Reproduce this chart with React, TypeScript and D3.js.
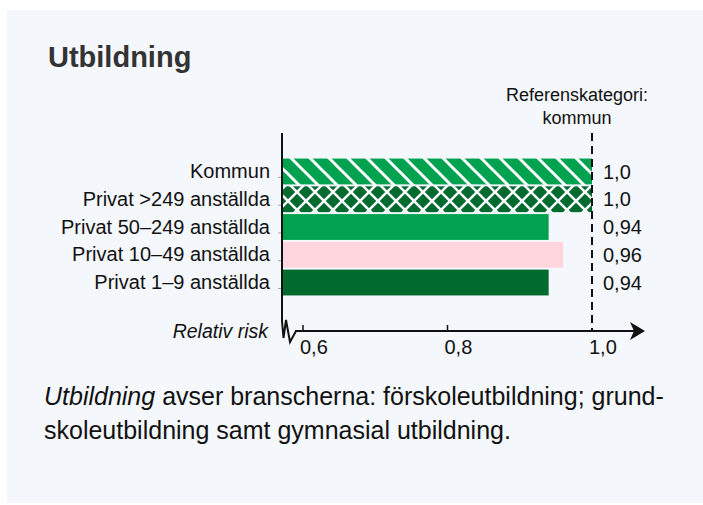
import React from 'react';
import * as d3 from 'd3';

const categories = [
  'Kommun',
  'Privat >249 anställda',
  'Privat 50–249 anställda',
  'Privat 10–49 anställda',
  'Privat 1–9 anställda',
];
const values = [1.0, 1.0, 0.94, 0.96, 0.94];
const valueLabels = ['1,0', '1,0', '0,94', '0,96', '0,94'];
const fills = ['url(#hatch)', 'url(#cross)', '#00a14f', '#ffd5de', '#016a2f'];
const tickValues = [0.6, 0.8, 1.0];
const tickLabels = ['0,6', '0,8', '1,0'];

const FONT = '"Liberation Sans", Arial, Helvetica, sans-serif';

export default function App() {
  const width = 703;
  const height = 505;
  const axisX = 282;
  const axisY = 331;

  // 0.6 -> 303, 1.0 -> 592
  const x = d3.scaleLinear().domain([0.6, 1.0]).range([303, 592]);
  const y = d3.scaleBand<string>()
    .domain(categories)
    .range([158, 296])
    .paddingInner(0.07)
    .paddingOuter(0.02);

  const refX = x(1.0);

  return (
    <svg
      width={width}
      height={height}
      style={{ position: 'absolute', left: 0, top: 0 }}
      fontFamily={FONT}
    >
      <defs>
        <pattern id="hatch" patternUnits="userSpaceOnUse" width={19} height={19}>
          <rect width={19} height={19} fill="#00a14f" />
          <path d="M-5,-5 L24,24 M-5,14 L5,24 M14,-5 L24,5" stroke="#fff" strokeWidth={3} />
        </pattern>
        <pattern id="cross" patternUnits="userSpaceOnUse" width={18} height={18} y={3}>
          <rect width={18} height={18} fill="#016a2f" />
          <path d="M-4,-4 L22,22 M-4,14 L4,22 M14,-4 L22,4" stroke="#fff" strokeWidth={2.5} />
          <path d="M22,-4 L-4,22 M4,-4 L-4,4 M22,14 L14,22" stroke="#fff" strokeWidth={2.5} />
        </pattern>
      </defs>

      <rect x={7} y={10} width={696} height={493} fill="#f4f7fb" />

      <text x={48} y={67} fontSize={29} fontWeight="bold" fill="#333">Utbildning</text>

      <text x={577} y={101} fontSize={18} textAnchor="middle" fill="#111">Referenskategori:</text>
      <text x={577} y={124} fontSize={18} textAnchor="middle" fill="#111">kommun</text>

      {/* bars */}
      {categories.map((c, i) => (
        <rect
          key={c}
          x={axisX}
          y={y(c)}
          width={x(values[i]) - axisX}
          height={y.bandwidth()}
          fill={fills[i]}
        />
      ))}

      {/* category labels + small ticks */}
      {categories.map((c) => (
        <g key={c}>
          <text
            x={270}
            y={(y(c) as number) + y.bandwidth() / 2}
            dy="0.33em"
            fontSize={20}
            textAnchor="end"
            fill="#111"
          >
            {c}
          </text>
          <line
            x1={axisX - 4}
            x2={axisX}
            y1={(y(c) as number) + y.bandwidth() / 2 + 6}
            y2={(y(c) as number) + y.bandwidth() / 2 + 6}
            stroke="#aaa"
            strokeWidth={1}
          />
        </g>
      ))}

      {/* value labels */}
      {categories.map((c, i) => (
        <text
          key={c}
          x={603}
          y={(y(c) as number) + y.bandwidth() / 2}
          dy="0.36em"
          fontSize={20}
          fill="#111"
        >
          {valueLabels[i]}
        </text>
      ))}

      {/* reference dashed line */}
      <line
        x1={refX}
        x2={refX}
        y1={133}
        y2={axisY}
        stroke="#111"
        strokeWidth={2}
        strokeDasharray="8,5"
      />

      {/* axes with break */}
      <path
        d={`M${axisX},133 V321 L283.5,338 L286,320 L290,342 L296,${axisY} H638`}
        fill="none"
        stroke="#111"
        strokeWidth={2}
        strokeLinejoin="miter"
      />
      <path d={`M630,322 L645,${axisY} L630,340 L634,${axisY} Z`} fill="#111" />

      {tickValues.map((t, i) => (
        <g key={t}>
          {t < 1 && (
            <line x1={x(t)} x2={x(t)} y1={axisY - 6} y2={axisY} stroke="#111" strokeWidth={1.5} />
          )}
          <text x={x(t) - 3} y={354} fontSize={20} fill="#111">{tickLabels[i]}</text>
        </g>
      ))}

      <text x={268} y={338} fontSize={19.5} fontStyle="italic" textAnchor="end" fill="#111">
        Relativ risk
      </text>

      <text x={44} y={405} fontSize={25} fill="#111">
        <tspan fontStyle="italic">Utbildning</tspan> avser branscherna: förskoleutbildning; grund-
      </text>
      <text x={44} y={439} fontSize={25} fill="#111">
        skoleutbildning samt gymnasial utbildning.
      </text>
    </svg>
  );
}
